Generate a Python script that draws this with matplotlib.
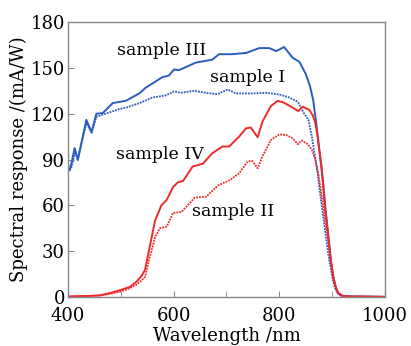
import matplotlib.pyplot as plt

plt.rcParams["font.family"] = "DejaVu Serif"

# sample III (blue, solid)
wl_3 = [400, 404, 413, 419, 435, 445, 454, 466, 485, 497, 510, 536, 547, 579, 591,
        601, 610, 642, 673, 686, 711, 737, 762, 781, 794, 809, 825, 838, 850, 858,
        864, 870, 876, 883, 888, 893, 898, 903, 909, 916, 930, 1000]
r_3 = [85, 83, 97.5, 89.6, 116, 108, 120, 120.4, 127, 127.7, 128.5, 133.5, 137, 144, 145,
       149, 148.5, 153.5, 155.4, 159, 159, 159.8, 163, 163, 161, 163.7, 156.7, 154, 146, 138,
       129, 113, 95, 74, 55, 38, 22, 11, 3.5, 1, 0.2, 0]

# sample I (blue, dotted)
wl_1 = [400, 407, 413, 419, 435, 445, 454, 480, 497, 510, 536, 560, 585, 601, 613,
        639, 661, 683, 702, 718, 749, 775, 800, 819, 835, 847, 855, 862, 867, 872,
        877, 882, 887, 893, 900, 905, 910, 918, 1000]
r_1 = [86, 85, 94, 91, 113.8, 107.5, 118, 121, 123, 124, 127, 130.6, 132, 134.6, 133.7,
       135, 133.7, 132.8, 135.9, 133.3, 133.3, 133.7, 132.6, 130.6, 127.8, 120, 116, 104, 93, 82,
       68, 55, 42, 27, 13, 6, 2.3, 0.5, 0]

# sample IV (red, solid)
wl_4 = [400, 440, 460, 480, 500, 517, 530, 540, 546, 555, 565, 577, 587, 599, 608,
        618, 636, 655, 673, 692, 705, 724, 737, 746, 752, 759, 768, 784, 797, 809,
        825, 836, 844, 857, 863, 868, 872, 876, 880, 886, 892, 897, 902, 907, 912,
        920, 930, 1000]
r_4 = [0.3, 0.6, 1, 2.5, 4.5, 6.5, 10, 14, 17.7, 33, 50, 60, 63.5, 72, 75,
       76, 85.4, 87.2, 94, 98.5, 98.5, 105, 110.4, 111, 108, 104.6, 114.8, 125, 128.5, 127.2,
       124, 121.7, 124.6, 122.4, 119, 114, 106, 95, 85, 60, 42, 25, 13, 6, 2.3,
       0.6, 0.1, 0]

# sample II (red, dotted)
wl_2 = [400, 460, 480, 500, 515, 530, 540, 546, 555, 565, 574, 587, 599, 615, 640,
        662, 684, 707, 724, 740, 749, 759, 768, 784, 800, 813, 825, 835, 842, 854,
        862, 868, 874, 881, 886, 892, 897, 902, 907, 912, 920, 1000]
r_2 = [0.2, 0.8, 2, 3.5, 5.3, 8, 11, 13, 26, 39, 45, 46, 55, 55.6, 65,
       65.7, 73, 76.6, 81, 88.7, 89, 84.3, 92, 102.8, 106.5, 106, 104, 100, 102.4, 100,
       96, 90, 80, 64, 52, 38, 25, 13, 6, 2.3, 0.5, 0]

blue = "#2b5cbf"
red = "#f02a2a"

fig = plt.figure(figsize=(4.11, 3.46), dpi=100)
ax = fig.add_axes([0.165, 0.142, 0.772, 0.794])

ax.plot(wl_3, r_3, color=blue, lw=1.4)
ax.plot(wl_1, r_1, color=blue, lw=1.3, linestyle=(0, (1, 0.6)))
ax.plot(wl_4, r_4, color=red, lw=1.4)
ax.plot(wl_2, r_2, color=red, lw=1.3, linestyle=(0, (1, 0.6)))

ax.text(493, 161.5, "sample III", fontsize=12.5, va="center")
ax.text(669, 144, "sample I", fontsize=12.5, va="center")
ax.text(491, 93, "sample IV", fontsize=12.5, va="center")
ax.text(635, 56, "sample II", fontsize=12.5, va="center")

ax.set_xlim(400, 1000)
ax.set_ylim(0, 180)
ax.set_xticks([400, 600, 800, 1000])
ax.set_xticks([500, 700, 900], minor=True)
ax.set_yticks(range(0, 181, 30))
ax.tick_params(direction="in", labelsize=13, length=4, color="#888888", pad=2,
               top=False, right=False)
ax.tick_params(axis="x", pad=7)
ax.tick_params(which="minor", direction="in", length=4, color="#888888")
for s in ax.spines.values():
    s.set_color("#888888")
    s.set_linewidth(1.0)

ax.set_xlabel("Wavelength /nm", fontsize=13, labelpad=2)
ax.set_ylabel("Spectral response /(mA/W)", fontsize=13, labelpad=2)

fig.savefig("out.png", dpi=100)
